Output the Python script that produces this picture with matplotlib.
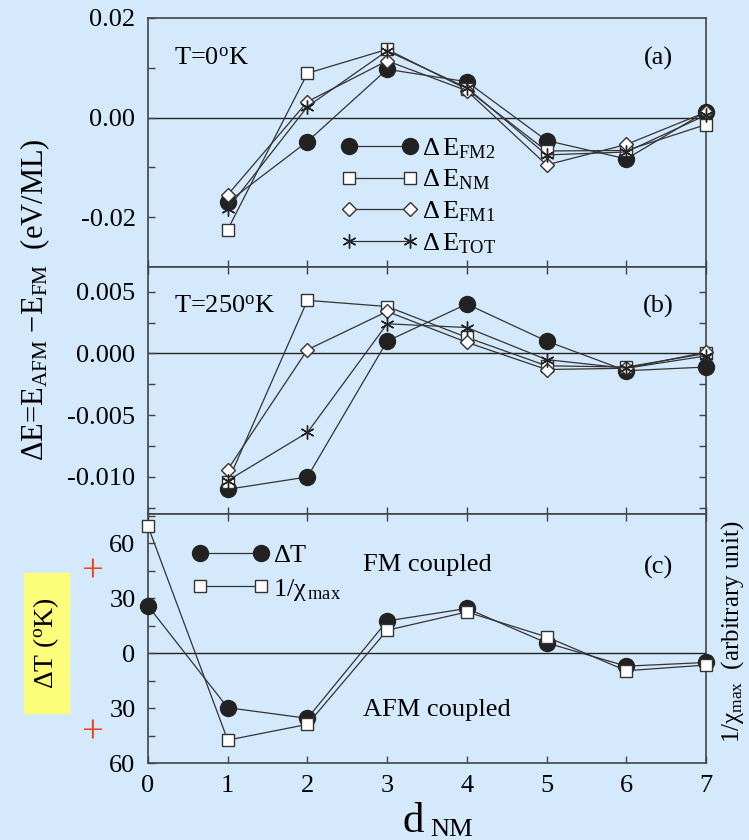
import numpy as np
import matplotlib
matplotlib.use("Agg")
import matplotlib.pyplot as plt
from matplotlib.patches import Rectangle

plt.rcParams['font.family'] = ['Liberation Serif', 'DejaVu Serif']
plt.rcParams['mathtext.fontset'] = 'custom'
plt.rcParams['mathtext.rm'] = 'Liberation Serif'
plt.rcParams['mathtext.it'] = 'Liberation Serif'

# --- data ---------------------------------------------------------------
d_ab = [1, 2, 3, 4, 5, 6, 7]
d_c = [0, 1, 2, 3, 4, 5, 6, 7]

# (a) T = 0 K
a_fm2 = [-0.0170, -0.0048, 0.0097, 0.0072, -0.0046, -0.0083, 0.0012]
a_nm = [-0.0225, 0.0089, 0.0137, 0.0057, -0.0067, -0.0066, -0.0014]
a_fm1 = [-0.0155, 0.0032, 0.0114, 0.0054, -0.0095, -0.0054, 0.0011]
a_tot = [-0.0183, 0.0022, 0.0134, 0.0060, -0.0075, -0.0069, 0.0005]

# (b) T = 250 K
b_fm2 = [-0.0110, -0.0100, 0.0010, 0.0040, 0.0010, -0.0014, -0.0011]
b_nm = [-0.0104, 0.0043, 0.0038, 0.0013, -0.0010, -0.0011, 0.0000]
b_fm1 = [-0.0094, 0.0003, 0.0034, 0.0009, -0.0013, -0.0012, 0.0001]
b_tot = [-0.0103, -0.0064, 0.0024, 0.0021, -0.0005, -0.0012, -0.0002]

# (c)
c_dT = [25.8, -29.8, -35.6, 17.6, 24.4, 5.6, -7.1, -5.1]
c_chi = [69.3, -47.5, -38.9, 12.5, 22.5, 8.9, -9.6, -6.5]

labels_ab = [r'$\Delta\,$E$_{\rm FM2}$', r'$\Delta\,$E$_{\rm NM}$',
             r'$\Delta\,$E$_{\rm FM1}$', r'$\Delta\,$E$_{\rm TOT}$']
labels_c = [r'$\Delta$T', r'1/$\chi_{\,\rm max}$']
c_yticks = [-60, -30, 0, 30, 60]
c_yticklabels = ['60', '30', '0', '30', '60']

# --- style --------------------------------------------------------------
bg = '#d5e9fc'
ink = '#222222'
W, H = 749, 840

fig = plt.figure(figsize=(W / 100, H / 100), dpi=100, facecolor=bg)


def box(x0, y0, x1, y1):
    return [x0 / W, 1 - y1 / H, (x1 - x0) / W, (y1 - y0) / H]


ax_a = fig.add_axes(box(148, 18, 706, 267))
ax_b = fig.add_axes(box(148, 267, 706, 514))
ax_c = fig.add_axes(box(148, 514, 706, 763))

styles = [dict(marker='o', ms=11.5, mfc=ink, mec=ink),
          dict(marker='s', ms=8.6, mfc='white', mec='#333333'),
          dict(marker='D', ms=7.4, mfc='white', mec='#333333'),
          dict(marker=(6, 2, 0), ms=10, mfc=ink, mec=ink)]

for ax in (ax_a, ax_b, ax_c):
    ax.set_facecolor(bg)
    ax.set_xlim(0, 7)
    ax.axhline(0, color=ink, lw=1.0, zorder=1)
    for s in ax.spines.values():
        s.set_color('#444444')
        s.set_linewidth(1.2)
    ax.tick_params(which='both', direction='in', length=5, width=1,
                   color='#444444', labelsize=19, pad=9)
    ax.set_xticks(range(8))

for ax, series in ((ax_a, (a_fm2, a_nm, a_fm1, a_tot)),
                   (ax_b, (b_fm2, b_nm, b_fm1, b_tot))):
    for y, st, lab in zip(series, styles, labels_ab):
        ax.plot(d_ab, y, color='#333333', lw=0.9, mew=1, label=lab,
                clip_on=False, zorder=3, **st)
    ax.tick_params(axis='x', labelbottom=False)

# panel (a)
ax_a.set_ylim(-0.03, 0.02)
ax_a.set_yticks([-0.02, 0.0, 0.02])
ax_a.set_yticklabels(['-0.02', '0.00', '0.02'])
ax_a.set_yticks([-0.01, 0.01], minor=True)
ax_a.text(0.33, 0.0119, r'T=0$^{\rm o}$K', fontsize=19, va='center')
ax_a.text(6.4, 0.0119, '(a)', fontsize=19, va='center', ha='center')
ax_a.legend(loc='upper left', bbox_to_anchor=(0.346, 0.526), frameon=False,
            numpoints=2, handlelength=2.9, handletextpad=0.15,
            labelspacing=0.27, borderpad=0, borderaxespad=0, fontsize=19)

# panel (b)
ax_b.set_ylim(-0.013, 0.007)
ax_b.set_yticks([-0.01, -0.005, 0.0, 0.005])
ax_b.set_yticklabels(['-0.010', '-0.005', '0.000', '0.005'])
ax_b.set_yticks(np.arange(-0.0125, 0.0075, 0.0025), minor=True)
ax_b.tick_params(which='both', right=True, top=True)
ax_b.text(0.33, 0.0038, r'T=250$^{\rm o}$K', fontsize=19, va='center')
ax_b.text(6.4, 0.0038, '(b)', fontsize=19, va='center', ha='center')

# panel (c)
ax_c.plot(d_c, c_dT, color='#333333', lw=0.9, label=labels_c[0],
          clip_on=False, zorder=3, **styles[0])
ax_c.plot(d_c, c_chi, color='#333333', lw=0.9, mew=1, label=labels_c[1],
          clip_on=False, zorder=4, **styles[1])
ax_c.set_ylim(-60, 76)
ax_c.set_yticks(c_yticks)
ax_c.set_yticklabels(c_yticklabels)
ax_c.set_yticks([-45, -15, 15, 45, 75], minor=True)
ax_c.tick_params(which='both', top=True)
ax_c.set_xticklabels([str(i) for i in range(8)])
ax_c.text(2.7, 48, 'FM coupled', fontsize=19, va='center')
ax_c.text(2.7, -31, 'AFM coupled', fontsize=19, va='center')
ax_c.text(6.4, 47, '(c)', fontsize=19, va='center', ha='center')
ax_c.legend(loc='upper left', bbox_to_anchor=(0.079, 0.88), frameon=False,
            numpoints=2, handlelength=2.9, handletextpad=0.15,
            labelspacing=0.35, borderpad=0, borderaxespad=0, fontsize=19)

# axis labels
fig.text(35 / W, 1 - 300 / H,
         r'$\Delta$E=E$_{\rm AFM}$ $-$E$_{\rm FM}$  (eV/ML)',
         rotation=90, fontsize=22, ha='center', va='center')
fig.patches.append(Rectangle((24 / W, 1 - 713 / H), 45 / W, 140 / H,
                             transform=fig.transFigure, color='#fdfd7c', zorder=0))
fig.text(46 / W, 1 - 643 / H, r'$\Delta$T ($^{\rm o}$K)', rotation=90,
         fontsize=20, ha='center', va='center')
fig.text(92 / W, 1 - 572 / H, '+', color='#e8461e', fontsize=28,
         ha='center', va='center')
fig.text(92 / W, 1 - 733 / H, '+', color='#e8461e', fontsize=28,
         ha='center', va='center')
fig.text(733 / W, 1 - 632 / H, r'1/$\chi_{\rm max}$  (arbitrary unit)',
         rotation=90, fontsize=18, ha='center', va='center')
fig.text(402 / W, 1 - 832 / H, 'd', fontsize=31, ha='left', va='baseline')
fig.text(430 / W, 1 - 836 / H, 'NM', fontsize=19, ha='left', va='baseline')

fig.savefig('out.png', dpi=100, facecolor=bg)
